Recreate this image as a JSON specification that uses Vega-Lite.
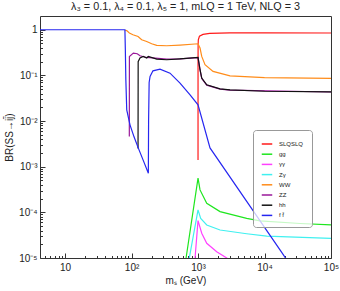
{
  "$schema": "https://vega.github.io/schema/vega-lite/v6.json",
  "width": 291,
  "height": 242,
  "autosize": {"type": "none"},
  "padding": {"left": 40, "top": 16, "right": 9, "bottom": 33},
  "background": "white",
  "config": {
    "font": "Liberation Sans",
    "view": {"stroke": "#333333", "strokeWidth": 1},
    "axis": {"domain": false, "grid": false, "tickColor": "#333333", "labelColor": "#222222", "titleColor": "#222222", "labelFontSize": 10, "titleFontSize": 10, "titleFontWeight": "normal"}
  },
  "title": {"text": "λ₃ = 0.1,  λ₄ = 0.1,  λ₅ = 1,  mLQ = 1 TeV,  NLQ = 3", "fontSize": 10.8, "fontWeight": "normal", "color": "#222222", "offset": 4, "anchor": "middle"},
  "data": {"values": [
    {"m": 1000.1, "br": 0.0014, "c": "SLQSLQ"},
    {"m": 1000.6, "br": 0.15, "c": "SLQSLQ"},
    {"m": 1003, "br": 0.45, "c": "SLQSLQ"},
    {"m": 1010, "br": 0.6, "c": "SLQSLQ"},
    {"m": 1050, "br": 0.72, "c": "SLQSLQ"},
    {"m": 1189, "br": 0.79, "c": "SLQSLQ"},
    {"m": 1500, "br": 0.83, "c": "SLQSLQ"},
    {"m": 3000, "br": 0.855, "c": "SLQSLQ"},
    {"m": 10000, "br": 0.855, "c": "SLQSLQ"},
    {"m": 100000, "br": 0.848, "c": "SLQSLQ"},

    {"m": 600, "br": 0.0000039, "c": "gg"},
    {"m": 661, "br": 0.00001, "c": "gg"},
    {"m": 1000, "br": 0.00056, "c": "gg"},
    {"m": 1072, "br": 0.00031, "c": "gg"},
    {"m": 1352, "br": 0.000158, "c": "gg"},
    {"m": 2143, "br": 0.000104, "c": "gg"},
    {"m": 5395, "br": 0.000074, "c": "gg"},
    {"m": 8550, "br": 0.000065, "c": "gg"},
    {"m": 34200, "br": 0.000057, "c": "gg"},
    {"m": 100000, "br": 0.000053, "c": "gg"},

    {"m": 880, "br": 0.000006, "c": "γγ"},
    {"m": 902, "br": 0.00001, "c": "γγ"},
    {"m": 1000, "br": 0.000066, "c": "γγ"},
    {"m": 1137, "br": 0.000035, "c": "γγ"},
    {"m": 1352, "br": 0.000021, "c": "γγ"},
    {"m": 1910, "br": 0.0000137, "c": "γγ"},
    {"m": 2705, "br": 0.00001, "c": "γγ"},
    {"m": 4300, "br": 0.000007, "c": "γγ"},

    {"m": 700, "br": 0.0000064, "c": "Zγ"},
    {"m": 739, "br": 0.00001, "c": "Zγ"},
    {"m": 1000, "br": 0.000113, "c": "Zγ"},
    {"m": 1097, "br": 0.000074, "c": "Zγ"},
    {"m": 1352, "br": 0.000053, "c": "Zγ"},
    {"m": 2143, "br": 0.000041, "c": "Zγ"},
    {"m": 5395, "br": 0.000034, "c": "Zγ"},
    {"m": 10800, "br": 0.00003, "c": "Zγ"},
    {"m": 100000, "br": 0.000027, "c": "Zγ"},

    {"m": 80, "br": 0.97, "c": "WW"},
    {"m": 84.7, "br": 0.96, "c": "WW"},
    {"m": 92.7, "br": 0.85, "c": "WW"},
    {"m": 105, "br": 0.777, "c": "WW"},
    {"m": 125.4, "br": 0.713, "c": "WW"},
    {"m": 142, "br": 0.604, "c": "WW"},
    {"m": 169, "br": 0.554, "c": "WW"},
    {"m": 201, "br": 0.493, "c": "WW"},
    {"m": 239, "br": 0.453, "c": "WW"},
    {"m": 338, "br": 0.446, "c": "WW"},
    {"m": 536, "br": 0.462, "c": "WW"},
    {"m": 1000, "br": 0.493, "c": "WW"},
    {"m": 1072, "br": 0.397, "c": "WW"},
    {"m": 1137, "br": 0.26, "c": "WW"},
    {"m": 1274, "br": 0.171, "c": "WW"},
    {"m": 1682, "br": 0.122, "c": "WW"},
    {"m": 3027, "br": 0.098, "c": "WW"},
    {"m": 10000, "br": 0.089, "c": "WW"},
    {"m": 100000, "br": 0.086, "c": "WW"},

    {"m": 92.6, "br": 0.0046, "c": "ZZ"},
    {"m": 92.9, "br": 0.26, "c": "ZZ"},
    {"m": 106.4, "br": 0.308, "c": "ZZ"},
    {"m": 122, "br": 0.298, "c": "ZZ"},
    {"m": 134, "br": 0.269, "c": "ZZ"},
    {"m": 169, "br": 0.247, "c": "ZZ"},
    {"m": 338, "br": 0.228, "c": "ZZ"},
    {"m": 536, "br": 0.229, "c": "ZZ"},
    {"m": 1000, "br": 0.245, "c": "ZZ"},
    {"m": 1072, "br": 0.132, "c": "ZZ"},
    {"m": 1137, "br": 0.086, "c": "ZZ"},
    {"m": 1352, "br": 0.061, "c": "ZZ"},
    {"m": 2143, "br": 0.05, "c": "ZZ"},
    {"m": 3027, "br": 0.0478, "c": "ZZ"},
    {"m": 100000, "br": 0.0433, "c": "ZZ"},

    {"m": 125.3, "br": 0.0025, "c": "hh"},
    {"m": 125.8, "br": 0.2, "c": "hh"},
    {"m": 134, "br": 0.24, "c": "hh"},
    {"m": 150, "br": 0.26, "c": "hh"},
    {"m": 169, "br": 0.24, "c": "hh"},
    {"m": 179, "br": 0.26, "c": "hh"},
    {"m": 239, "br": 0.228, "c": "hh"},
    {"m": 338, "br": 0.22, "c": "hh"},
    {"m": 536, "br": 0.231, "c": "hh"},
    {"m": 1000, "br": 0.247, "c": "hh"},
    {"m": 1072, "br": 0.133, "c": "hh"},
    {"m": 1137, "br": 0.0873, "c": "hh"},
    {"m": 1352, "br": 0.0622, "c": "hh"},
    {"m": 2143, "br": 0.0508, "c": "hh"},
    {"m": 3027, "br": 0.0483, "c": "hh"},
    {"m": 10000, "br": 0.045, "c": "hh"},
    {"m": 100000, "br": 0.0437, "c": "hh"},

    {"m": 4.2, "br": 1, "c": "f f̄"},
    {"m": 79.5, "br": 1, "c": "f f̄"},
    {"m": 80.7, "br": 0.364, "c": "f f̄"},
    {"m": 82.1, "br": 0.08, "c": "f f̄"},
    {"m": 84.7, "br": 0.0176, "c": "f f̄"},
    {"m": 94.8, "br": 0.00826, "c": "f f̄"},
    {"m": 109, "br": 0.00451, "c": "f f̄"},
    {"m": 126.5, "br": 0.00255, "c": "f f̄"},
    {"m": 149, "br": 0.00141, "c": "f f̄"},
    {"m": 179, "br": 0.00072, "c": "f f̄"},
    {"m": 180.5, "br": 0.01, "c": "f f̄"},
    {"m": 184, "br": 0.07, "c": "f f̄"},
    {"m": 190, "br": 0.0946, "c": "f f̄"},
    {"m": 210, "br": 0.126, "c": "f f̄"},
    {"m": 268, "br": 0.137, "c": "f f̄"},
    {"m": 379, "br": 0.112, "c": "f f̄"},
    {"m": 536, "br": 0.0678, "c": "f f̄"},
    {"m": 759, "br": 0.0376, "c": "f f̄"},
    {"m": 1000, "br": 0.0227, "c": "f f̄"},
    {"m": 1514, "br": 0.00258, "c": "f f̄"},
    {"m": 17100, "br": 0.000015, "c": "f f̄"},
    {"m": 100000, "br": 0.00000035, "c": "f f̄"}
  ]},
  "mark": {"type": "line", "clip": true, "strokeWidth": 1.2, "interpolate": "linear"},
  "encoding": {
    "x": {
      "field": "m", "type": "quantitative",
      "scale": {"type": "log", "domain": [4.2, 100000], "nice": false},
      "axis": {
        "title": "mₛ (GeV)",
        "values": [5,6,7,8,9,10,20,30,40,50,60,70,80,90,100,200,300,400,500,600,700,800,900,1000,2000,3000,4000,5000,6000,7000,8000,9000,10000,20000,30000,40000,50000,60000,70000,80000,90000,100000],
        "labelExpr": "abs(log(datum.value)/LN10 - round(log(datum.value)/LN10)) < 0.01 ? '10' + ['', '', '²', '³', '⁴', '⁵'][round(log(datum.value)/LN10)] : ''",
        "tickSize": {"condition": {"test": "abs(log(datum.value)/LN10 - round(log(datum.value)/LN10)) < 0.01", "value": -5}, "value": -2.5},
        "labelPadding": 9,
        "labelFlush": false,
        "titlePadding": 3
      }
    },
    "y": {
      "field": "br", "type": "quantitative",
      "scale": {"type": "log", "domain": [0.00001, 2], "nice": false},
      "axis": {
        "title": "BR(SS→ij̄)",
        "values": [0.00001,0.00002,0.00003,0.00004,0.00005,0.00006,0.00007,0.00008,0.00009,0.0001,0.0002,0.0003,0.0004,0.0005,0.0006,0.0007,0.0008,0.0009,0.001,0.002,0.003,0.004,0.005,0.006,0.007,0.008,0.009,0.01,0.02,0.03,0.04,0.05,0.06,0.07,0.08,0.09,0.1,0.2,0.3,0.4,0.5,0.6,0.7,0.8,0.9,1],
        "labelExpr": "abs(log(datum.value)/LN10 - round(log(datum.value)/LN10)) < 0.01 ? (round(log(datum.value)/LN10) == 0 ? '1' : '10' + ['⁻⁵', '⁻⁴', '⁻³', '⁻²', '⁻¹'][round(log(datum.value)/LN10) + 5]) : ''",
        "tickSize": {"condition": {"test": "abs(log(datum.value)/LN10 - round(log(datum.value)/LN10)) < 0.01", "value": -5}, "value": -2.5},
        "labelPadding": 8,
        "labelFlush": false,
        "titlePadding": 4
      }
    },
    "color": {
      "field": "c", "type": "nominal",
      "scale": {
        "domain": ["SLQSLQ", "gg", "γγ", "Zγ", "WW", "ZZ", "hh", "f f̄"],
        "range": ["#ff1a1a", "#1ee61e", "#ff40ff", "#40f0f0", "#ff8c1a", "#9a189a", "#111111", "#2626f0"]
      },
      "legend": {
        "orient": "none", "legendX": 213, "legendY": 114,
        "title": null, "symbolType": "stroke", "symbolSize": 110, "symbolStrokeWidth": 1.5,
        "labelFontSize": 6, "labelColor": "#222222", "rowPadding": 1.2, "padding": 8, "labelOffset": 6,
        "strokeColor": "#999999", "fillColor": "rgba(255,255,255,0.75)", "cornerRadius": 3
      }
    }
  }
}
